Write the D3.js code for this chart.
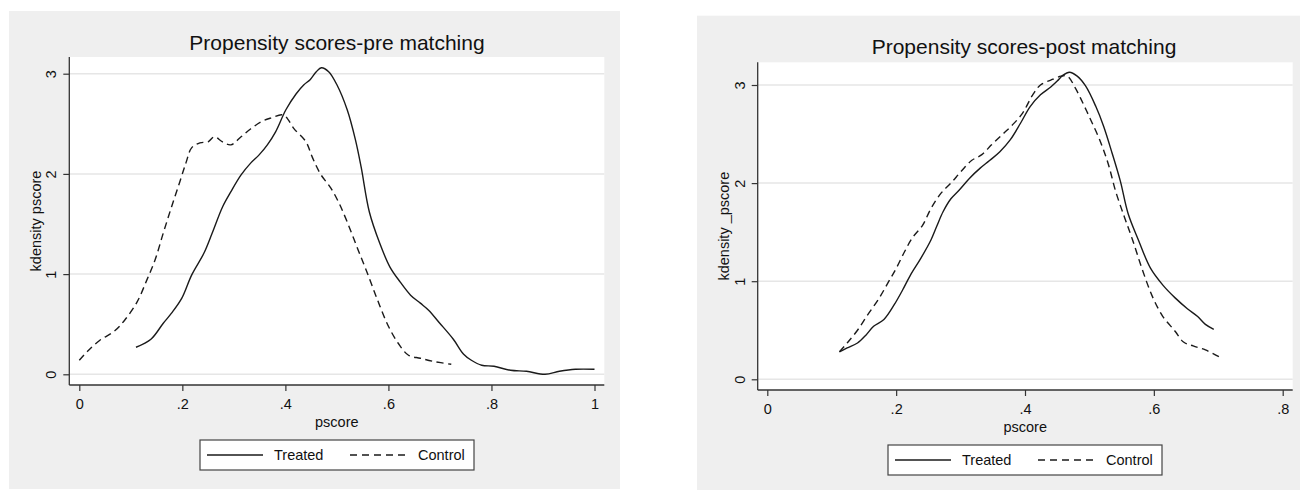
<!DOCTYPE html>
<html>
<head>
<meta charset="utf-8">
<script src="https://cdn.jsdelivr.net/npm/d3@7"></script>
<style>
  body { margin: 0; background: #fff; }
  text { font-family: "Liberation Sans", Arial, sans-serif; fill: #111; }
</style>
</head>
<body>
<div id="chart"></div>
<script>
// kdensity, [pscore, density]
const preTreated = [[0.110,0.27],[0.139,0.35],[0.163,0.51],[0.179,0.61],[0.199,0.76],[0.218,0.99],[0.242,1.21],
  [0.258,1.41],[0.278,1.67],[0.294,1.82],[0.314,1.99],[0.333,2.11],[0.349,2.19],[0.365,2.29],[0.381,2.42],
  [0.401,2.64],[0.421,2.80],[0.436,2.89],[0.448,2.94],[0.460,3.02],[0.470,3.06],[0.484,3.02],[0.500,2.89],
  [0.520,2.64],[0.536,2.34],[0.547,2.07],[0.563,1.62],[0.583,1.31],[0.603,1.07],[0.623,0.92],[0.643,0.79],
  [0.662,0.71],[0.678,0.64],[0.698,0.52],[0.726,0.35],[0.746,0.20],[0.761,0.14],[0.781,0.09],[0.805,0.08],
  [0.837,0.04],[0.868,0.03],[0.904,0.00],[0.932,0.03],[0.963,0.05],[1.000,0.05]];
const preControl = [[0.000,0.14],[0.016,0.23],[0.040,0.34],[0.068,0.43],[0.088,0.54],[0.112,0.72],[0.131,0.94],
  [0.147,1.14],[0.163,1.41],[0.179,1.67],[0.195,1.92],[0.207,2.11],[0.218,2.26],[0.234,2.31],[0.250,2.32],
  [0.262,2.37],[0.278,2.32],[0.294,2.29],[0.314,2.37],[0.333,2.45],[0.353,2.52],[0.373,2.56],[0.393,2.59],
  [0.401,2.57],[0.417,2.45],[0.440,2.32],[0.452,2.17],[0.468,2.00],[0.488,1.86],[0.504,1.71],[0.520,1.52],
  [0.539,1.27],[0.559,1.01],[0.579,0.74],[0.599,0.49],[0.619,0.31],[0.639,0.19],[0.662,0.16],[0.686,0.13],
  [0.722,0.10]];
const postTreated = [[0.112,0.28],[0.124,0.32],[0.140,0.37],[0.153,0.45],[0.165,0.54],[0.181,0.61],[0.197,0.76],
  [0.210,0.91],[0.222,1.06],[0.238,1.23],[0.254,1.42],[0.263,1.56],[0.273,1.71],[0.285,1.84],[0.298,1.93],
  [0.314,2.05],[0.330,2.15],[0.345,2.23],[0.361,2.32],[0.377,2.44],[0.393,2.61],[0.408,2.78],[0.424,2.90],
  [0.440,2.98],[0.450,3.04],[0.459,3.10],[0.469,3.13],[0.481,3.09],[0.494,2.99],[0.510,2.78],[0.522,2.58],
  [0.535,2.31],[0.548,2.02],[0.560,1.69],[0.576,1.42],[0.595,1.13],[0.614,0.96],[0.633,0.83],[0.652,0.72],
  [0.668,0.64],[0.680,0.56],[0.693,0.51]];
const postControl = [[0.112,0.28],[0.124,0.37],[0.140,0.50],[0.156,0.66],[0.172,0.81],[0.187,0.98],[0.200,1.13],
  [0.213,1.30],[0.225,1.44],[0.241,1.57],[0.254,1.74],[0.270,1.90],[0.285,2.00],[0.301,2.12],[0.317,2.23],
  [0.333,2.29],[0.348,2.39],[0.364,2.49],[0.380,2.59],[0.396,2.71],[0.412,2.90],[0.424,3.00],[0.440,3.05],
  [0.456,3.09],[0.466,3.09],[0.478,2.97],[0.491,2.80],[0.503,2.63],[0.516,2.44],[0.529,2.20],[0.541,1.91],
  [0.554,1.66],[0.567,1.42],[0.582,1.12],[0.598,0.84],[0.614,0.64],[0.633,0.49],[0.646,0.38],[0.661,0.34],
  [0.680,0.30],[0.701,0.23]];

const yTicks = [0, 1, 2, 3];
const xTicksPre = [0, 0.2, 0.4, 0.6, 0.8, 1];
const xTicksPost = [0, 0.2, 0.4, 0.6, 0.8];
const xTickLabelsPre = ["0", ".2", ".4", ".6", ".8", "1"];
const xTickLabelsPost = ["0", ".2", ".4", ".6", ".8"];
const seriesNames = ["Treated", "Control"];

const svg = d3.select("#chart").append("svg")
    .attr("width", 1300)
    .attr("height", 490);

function panel(p) {
  const g = svg.append("g");
  g.append("rect").attr("x", p.bg[0]).attr("y", p.bg[1]).attr("width", p.bg[2]).attr("height", p.bg[3])
      .attr("fill", "#efefef");
  g.append("rect").attr("x", p.left).attr("y", p.top).attr("width", p.right - p.left).attr("height", p.bottom - p.top)
      .attr("fill", "#fff");

  const x = d3.scaleLinear().domain([0, p.xMax]).range(p.xRange);
  const y = d3.scaleLinear().domain([0, 3]).range(p.yRange);

  // grid
  g.selectAll(".grid").data(yTicks).enter().append("line")
      .attr("x1", p.left).attr("x2", p.right)
      .attr("y1", d => y(d)).attr("y2", d => y(d))
      .attr("stroke", "#e6e6e6").attr("stroke-width", 1.5);

  // axes
  const xa = g.append("g").attr("transform", "translate(0," + p.bottom + ")")
      .call(d3.axisBottom(x).tickValues(p.xTicks).tickSize(6).tickPadding(8)
        .tickFormat((d, i) => p.xLabels[i]));
  xa.select(".domain").remove();
  xa.selectAll("line").attr("stroke", "#333").attr("stroke-width", 1.2);
  xa.selectAll("text").style("font-size", "14.5px").attr("fill", "#111")
      .attr("font-family", "Liberation Sans, Arial, sans-serif");

  const ya = g.append("g").attr("transform", "translate(" + p.left + ",0)")
      .call(d3.axisLeft(y).tickValues(yTicks).tickSize(6).tickFormat(d3.format("d")));
  ya.select(".domain").remove();
  ya.selectAll("line").attr("stroke", "#333").attr("stroke-width", 1.2);
  ya.selectAll("text").style("font-size", "14.5px").attr("fill", "#111")
      .attr("font-family", "Liberation Sans, Arial, sans-serif")
      .attr("x", 0).attr("dy", 0)
      .attr("transform", "translate(-13,0) rotate(-90)")
      .style("text-anchor", "middle");

  g.append("line").attr("x1", p.left).attr("x2", p.left).attr("y1", p.top).attr("y2", p.bottom)
      .attr("stroke", "#333").attr("stroke-width", 1.3);
  g.append("line").attr("x1", p.left).attr("x2", p.right).attr("y1", p.bottom).attr("y2", p.bottom)
      .attr("stroke", "#333").attr("stroke-width", 1.3);

  // curves
  const line = d3.line().x(d => x(d[0])).y(d => y(d[1])).curve(d3.curveCatmullRom);
  g.append("path").datum(p.treated).attr("d", line)
      .attr("fill", "none").attr("stroke", "#1a1a1a").attr("stroke-width", 1.4);
  g.append("path").datum(p.control).attr("d", line)
      .attr("fill", "none").attr("stroke", "#1a1a1a").attr("stroke-width", 1.4)
      .attr("stroke-dasharray", "7,4.5");

  // titles
  g.append("text").attr("x", p.titleX).attr("y", p.titleY).attr("text-anchor", "middle")
      .style("font-size", "21px").text(p.title);
  g.append("text").attr("x", (p.left + p.right) / 2).attr("y", p.xTitleY).attr("text-anchor", "middle")
      .style("font-size", "14.5px").text("pscore");
  g.append("text").attr("transform", "translate(" + p.yTitleX + "," + (p.top + p.bottom) / 2 + ") rotate(-90)")
      .attr("text-anchor", "middle").style("font-size", "14.5px").text(p.yTitle);

  // legend
  const lg = g.append("g").attr("transform", "translate(" + p.legend[0] + "," + p.legend[1] + ")");
  lg.append("rect").attr("width", p.legend[2]).attr("height", 30)
      .attr("fill", "#fff").attr("stroke", "#444").attr("stroke-width", 1.2);
  lg.append("line").attr("x1", 7).attr("x2", 63).attr("y1", 15).attr("y2", 15)
      .attr("stroke", "#1a1a1a").attr("stroke-width", 1.4);
  lg.append("text").attr("x", 74).attr("y", 20).style("font-size", "14.5px").text(seriesNames[0]);
  lg.append("line").attr("x1", 150).attr("x2", 208).attr("y1", 15).attr("y2", 15)
      .attr("stroke", "#1a1a1a").attr("stroke-width", 1.4).attr("stroke-dasharray", "7,5");
  lg.append("text").attr("x", 218).attr("y", 20).style("font-size", "14.5px").text(seriesNames[1]);
}

panel({
  bg: [9, 11, 611, 478], left: 69.3, right: 604.3, top: 57, bottom: 385,
  xMax: 1, xRange: [79.3, 594.5], yRange: [374.3, 73.7],
  xTicks: xTicksPre, xLabels: xTickLabelsPre,
  treated: preTreated, control: preControl,
  title: "Propensity scores-pre matching", titleX: 337, titleY: 49.5,
  xTitleY: 427, yTitleX: 40.5, yTitle: "kdensity pscore",
  legend: [200, 440, 274]
});

panel({
  bg: [697, 15.7, 603, 474.3], left: 757.7, right: 1292.7, top: 62.3, bottom: 390,
  xMax: 0.8, xRange: [767.3, 1282.7], yRange: [379.3, 85],
  xTicks: xTicksPost, xLabels: xTickLabelsPost,
  treated: postTreated, control: postControl,
  title: "Propensity scores-post matching", titleX: 1024, titleY: 54.3,
  xTitleY: 432, yTitleX: 729, yTitle: "kdensity _pscore",
  legend: [888, 445, 274]
});
</script>
</body>
</html>
